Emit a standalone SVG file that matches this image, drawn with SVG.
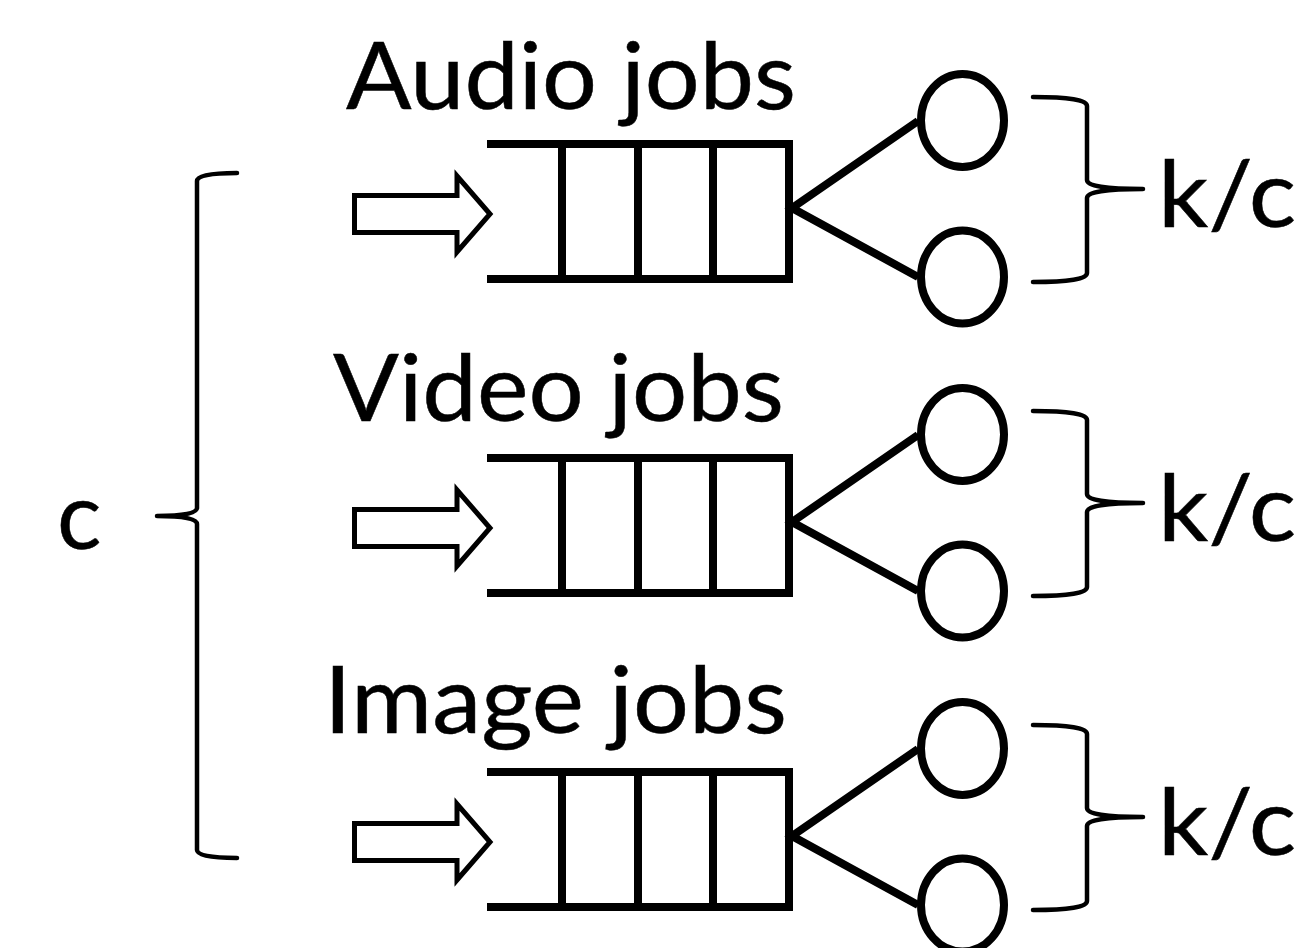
<svg xmlns="http://www.w3.org/2000/svg" width="1309" height="948" viewBox="0 0 1309 948">
<style>
.lbl{font-family:Lato,"Open Sans","Liberation Sans",sans-serif;font-size:93px;fill:#000;stroke:#000;stroke-width:0.5}
.q{fill:none;stroke:#000;stroke-width:8;stroke-linejoin:miter}
.arr{fill:#fff;stroke:#000;stroke-width:5;stroke-linejoin:miter}
.srv{fill:#fff;stroke:#000;stroke-width:8}
.con{stroke:#000;stroke-width:8;fill:none}
.br{fill:none;stroke:#000;stroke-width:4.5;stroke-linecap:round;stroke-linejoin:round}
</style>
<defs>
<g id="queueShape">
<path class="q" d="M487,144 H789 V279 H487"/>
<line class="q" x1="562" y1="144" x2="562" y2="279"/>
<line class="q" x1="638" y1="144" x2="638" y2="279"/>
<line class="q" x1="713" y1="144" x2="713" y2="279"/>
</g>
<polygon id="arrowShape" class="arr" points="354.5,195.5 457,195.5 457,176 490,214 457,252 457,232.5 354.5,232.5"/>
<path id="rbrace" class="br" d="M1033,97 Q1087,97 1087,106 L1087,180 Q1087,189 1143,189 Q1087,189 1087,198 L1087,273 Q1087,282 1033,282"/>
</defs>

<g id="labels">
<text class="lbl" x="346" y="109" textLength="450" lengthAdjust="spacingAndGlyphs">Audio jobs</text>
<text class="lbl" x="333" y="421" textLength="451" lengthAdjust="spacingAndGlyphs">Video jobs</text>
<text class="lbl" x="324" y="733" textLength="463" lengthAdjust="spacingAndGlyphs">Image jobs</text>
</g>

<g id="input-audio"><use href="#arrowShape"/></g>
<g id="input-video" transform="translate(0,314)"><use href="#arrowShape"/></g>
<g id="input-image" transform="translate(0,628)"><use href="#arrowShape"/></g>

<g id="queue-audio"><use href="#queueShape"/></g>
<g id="queue-video" transform="translate(0,314)"><use href="#queueShape"/></g>
<g id="queue-image" transform="translate(0,628)"><use href="#queueShape"/></g>

<g id="connectors">
<path class="con" d="M918,121 L792,208 L918,277"/>
<path class="con" d="M918,435 L792,522 L918,591"/>
<path class="con" d="M918,749 L792,836 L918,905"/>
</g>

<g id="server-audio-1"><ellipse class="srv" cx="962.5" cy="120.5" rx="41.5" ry="46.5"/></g>
<g id="server-audio-2"><ellipse class="srv" cx="962.5" cy="277" rx="41.5" ry="46.5"/></g>
<g id="server-video-1"><ellipse class="srv" cx="962.5" cy="434.5" rx="41.5" ry="46.5"/></g>
<g id="server-video-2"><ellipse class="srv" cx="962.5" cy="591" rx="41.5" ry="46.5"/></g>
<g id="server-image-1"><ellipse class="srv" cx="962.5" cy="748.5" rx="41.5" ry="46.5"/></g>
<g id="server-image-2"><ellipse class="srv" cx="962.5" cy="905" rx="41.5" ry="46.5"/></g>

<g id="brace-audio"><use href="#rbrace"/><text class="lbl" x="1158" y="227" textLength="138" lengthAdjust="spacingAndGlyphs">k/c</text></g>
<g id="brace-video" transform="translate(0,314)"><use href="#rbrace"/><text class="lbl" x="1158" y="227" textLength="138" lengthAdjust="spacingAndGlyphs">k/c</text></g>
<g id="brace-image" transform="translate(0,628)"><use href="#rbrace"/><text class="lbl" x="1158" y="227" textLength="138" lengthAdjust="spacingAndGlyphs">k/c</text></g>

<g id="brace-c">
<path class="br" d="M237,173 Q197,173 197,181 L197,508 Q197,516 157,516 Q197,516 197,524 L197,850 Q197,858 237,858"/>
<text class="lbl" x="57" y="549">c</text>
</g>
</svg>
